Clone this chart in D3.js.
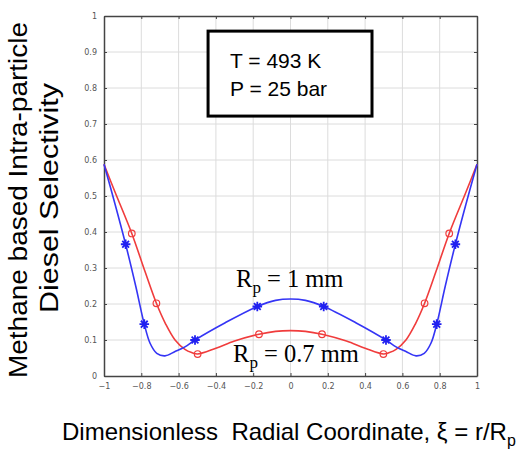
<!DOCTYPE html>
<meta charset="utf-8">
<style>
body { margin: 0; background: #fff; }
.tick text { font-family: "DejaVu Sans", sans-serif; font-size: 8px; fill: #555; }
.grid line { stroke: #dcdcdc; stroke-width: 1; }
.lbl { font-family: "Liberation Sans", Arial, sans-serif; fill: #000; }
.rp { font-family: "Liberation Serif", "Times New Roman", serif; fill: #000; }
</style>
<body>
<svg width="523" height="450"></svg>
</body>
<script src="https://cdnjs.cloudflare.com/ajax/libs/d3/7.8.5/d3.min.js"></script>
<script>

// radial coordinate and selectivity
var blueX = [-1, -0.941, -0.884, -0.83, -0.784, -0.753, -0.717, -0.673, -0.619, -0.566, -0.512, -0.35, -0.178, -0.08, 0,
             0.08, 0.178, 0.35, 0.512, 0.566, 0.619, 0.673, 0.717, 0.753, 0.784, 0.83, 0.884, 0.941, 1];
var blueY = [0.588, 0.478, 0.366, 0.25, 0.144, 0.091, 0.063, 0.056, 0.068, 0.081, 0.10, 0.148, 0.193, 0.21, 0.214,
             0.21, 0.193, 0.148, 0.10, 0.081, 0.068, 0.056, 0.063, 0.091, 0.144, 0.25, 0.366, 0.478, 0.588];
var redX = [-1, -0.941, -0.851, -0.78, -0.719, -0.67, -0.619, -0.566, -0.53, -0.498, -0.4, -0.3, -0.169, -0.08, 0,
            0.08, 0.169, 0.3, 0.4, 0.498, 0.53, 0.566, 0.619, 0.67, 0.719, 0.78, 0.851, 0.941, 1];
var redY = [0.588, 0.511, 0.396, 0.29, 0.202, 0.145, 0.10, 0.074, 0.065, 0.061, 0.077, 0.097, 0.116, 0.124, 0.126,
            0.124, 0.116, 0.097, 0.077, 0.061, 0.065, 0.074, 0.10, 0.145, 0.202, 0.29, 0.396, 0.511, 0.588];
var blueMarks = [-0.884, -0.784, -0.512, -0.178, 0.178, 0.512, 0.784, 0.884];
var redMarks = [-0.851, -0.719, -0.498, -0.169, 0.169, 0.498, 0.719, 0.851];

var xTicks = [-1, -0.8, -0.6, -0.4, -0.2, 0, 0.2, 0.4, 0.6, 0.8, 1];
var yTicks = [0, 0.1, 0.2, 0.3, 0.4, 0.5, 0.6, 0.7, 0.8, 0.9, 1];

var svg = d3.select("svg");
var x = d3.scaleLinear().domain([-1, 1]).range([104, 477]);
var y = d3.scaleLinear().domain([0, 1]).range([376, 16]);

// grid
var grid = svg.append("g").attr("class", "grid");
grid.selectAll(".gx").data(xTicks.slice(1, -1)).enter().append("line")
    .attr("x1", x).attr("x2", x).attr("y1", y(0)).attr("y2", y(1));
grid.selectAll(".gy").data(yTicks.slice(1, -1)).enter().append("line")
    .attr("y1", y).attr("y2", y).attr("x1", x(-1)).attr("x2", x(1));

// axes
var fmt = function(d) { return d3.format("")(+d.toFixed(1)); };
svg.append("g").attr("transform", "translate(0," + y(0) + ")")
    .call(d3.axisBottom(x).tickValues(xTicks).tickFormat(fmt).tickSizeInner(-3).tickSizeOuter(0).tickPadding(7));
svg.append("g").attr("transform", "translate(" + x(-1) + ",0)")
    .call(d3.axisLeft(y).tickValues(yTicks).tickFormat(fmt).tickSizeInner(-3).tickSizeOuter(0).tickPadding(7));
svg.append("g").attr("transform", "translate(0," + y(1) + ")")
    .call(d3.axisTop(x).tickValues(xTicks).tickFormat("").tickSizeInner(-3).tickSizeOuter(0));
svg.append("g").attr("transform", "translate(" + x(1) + ",0)")
    .call(d3.axisRight(y).tickValues(yTicks).tickFormat("").tickSizeInner(-3).tickSizeOuter(0));
svg.selectAll(".domain").attr("stroke", "#444").attr("stroke-width", 1.5);
svg.selectAll(".tick line").attr("stroke", "#444");

// curves
var line = d3.line().x(function(d) { return x(d[0]); }).y(function(d) { return y(d[1]); })
    .curve(d3.curveCatmullRom.alpha(0.5));
var blue = d3.zip(blueX, blueY), red = d3.zip(redX, redY);

svg.append("path").datum(red).attr("d", line)
    .attr("fill", "none").attr("stroke", "#f03c3c").attr("stroke-width", 1.6);
svg.append("path").datum(blue).attr("d", line)
    .attr("fill", "none").attr("stroke", "#3535f5").attr("stroke-width", 1.6);

// markers
function yAt(xs, ys, v) { return ys[xs.indexOf(v)]; }
svg.selectAll(".rm").data(redMarks).enter().append("circle")
    .attr("cx", function(d) { return x(d); })
    .attr("cy", function(d) { return y(yAt(redX, redY, d)); })
    .attr("r", 3.3).attr("fill", "none").attr("stroke", "#f03c3c").attr("stroke-width", 1.2);

var star = "M-4.8,0H4.8M0,-4.8V4.8M-3.4,-3.4L3.4,3.4M-3.4,3.4L3.4,-3.4";
svg.selectAll(".bm").data(blueMarks).enter().append("path")
    .attr("transform", function(d) { return "translate(" + x(d) + "," + y(yAt(blueX, blueY, d)) + ")"; })
    .attr("d", star).attr("stroke", "#2020f0").attr("stroke-width", 1.8);

// annotation box
svg.append("rect")
    .attr("x", x(-0.442)).attr("y", y(0.958))
    .attr("width", x(0.437) - x(-0.442)).attr("height", y(0.722) - y(0.958))
    .attr("fill", "#fff").attr("stroke", "#000").attr("stroke-width", 3);
svg.append("text").attr("class", "lbl").attr("x", 230).attr("y", 68)
    .attr("font-size", 21).text("T = 493 K");
svg.append("text").attr("class", "lbl").attr("x", 230).attr("y", 96)
    .attr("font-size", 21).text("P = 25 bar");

// series labels
var l1 = svg.append("text").attr("class", "rp").attr("x", x(-0.292)).attr("y", y(0.247)).attr("font-size", 24.5);
l1.append("tspan").text("R");
l1.append("tspan").attr("dy", 6).attr("font-size", 17).text("p");
l1.append("tspan").attr("dy", -6).text(" = 1 mm");
var l2 = svg.append("text").attr("class", "rp").attr("x", x(-0.308)).attr("y", y(0.039)).attr("font-size", 24.5);
l2.append("tspan").text("R");
l2.append("tspan").attr("dy", 6).attr("font-size", 17).text("p");
l2.append("tspan").attr("dy", -6).text(" = 0.7 mm");

// axis titles
var xt = svg.append("text").attr("class", "lbl").attr("x", 62).attr("y", 440).attr("font-size", 24)
    .attr("xml:space", "preserve");
xt.append("tspan").text("Dimensionless  Radial Coordinate, \u03be = r/R");
xt.append("tspan").attr("dy", 6).attr("font-size", 16).text("p");

var yt = svg.append("g").attr("transform", "rotate(-90)");
yt.append("text").attr("class", "lbl").attr("x", -200).attr("y", 27).attr("text-anchor", "middle")
    .attr("font-size", 25).attr("textLength", 356).attr("lengthAdjust", "spacingAndGlyphs")
    .text("Methane based Intra-particle");
yt.append("text").attr("class", "lbl").attr("x", -198).attr("y", 58).attr("text-anchor", "middle")
    .attr("font-size", 25).attr("textLength", 230).attr("lengthAdjust", "spacingAndGlyphs")
    .text("Diesel Selectivity");
</script>
